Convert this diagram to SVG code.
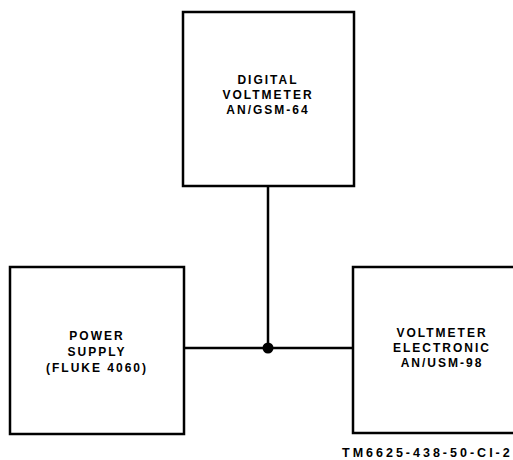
<svg xmlns="http://www.w3.org/2000/svg" width="513" height="460" viewBox="0 0 513 460">
<style>
.box{fill:#fff;stroke:#000;stroke-width:2.5}
.lbl{font-family:"Liberation Sans",Arial,sans-serif;font-weight:bold;font-size:12px;letter-spacing:2px;text-anchor:middle;fill:#000}
.wire{stroke:#000;stroke-width:2.5;fill:none}
</style>
<rect width="513" height="460" fill="#fff"/>
<g id="connectors">
<line class="wire" x1="268" y1="186" x2="268" y2="348"/>
<line class="wire" x1="184" y1="348" x2="353" y2="348"/>
<circle cx="268" cy="348" r="5.5" fill="#000"/>
</g>
<g id="digital-voltmeter">
<rect class="box" x="183" y="12" width="171" height="174"/>
<text class="lbl" x="268" y="84">DIGITAL</text>
<text class="lbl" x="268" y="99">VOLTMETER</text>
<text class="lbl" x="268" y="114">AN/GSM-64</text>
</g>
<g id="power-supply">
<rect class="box" x="10" y="267" width="174" height="167"/>
<text class="lbl" x="97" y="340">POWER</text>
<text class="lbl" x="97" y="356">SUPPLY</text>
<text class="lbl" x="97" y="372">(FLUKE 4060)</text>
</g>
<g id="voltmeter-electronic">
<path class="box" d="M515,267 H353 V433 H515"/>
<text class="lbl" x="442" y="337">VOLTMETER</text>
<text class="lbl" x="442" y="352">ELECTRONIC</text>
<text class="lbl" x="442" y="367">AN/USM-98</text>
</g>
<text x="342" y="457" font-family="Liberation Sans,Arial,sans-serif" font-weight="bold" font-size="12.5px" letter-spacing="3px" fill="#000">TM6625-438-50-CI-2</text>
</svg>
